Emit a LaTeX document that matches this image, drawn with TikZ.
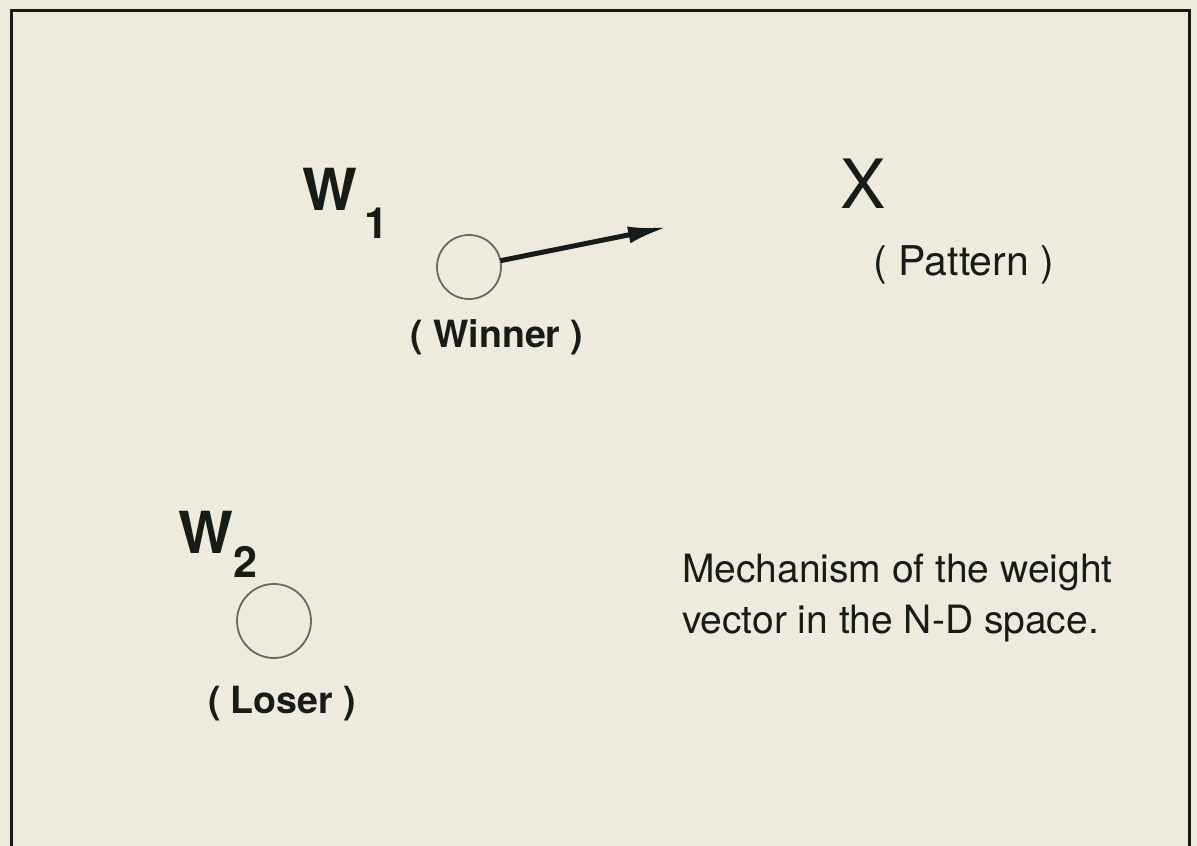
\documentclass[tikz,border=0pt]{standalone}
\usepackage{fontspec}
\setmainfont{TeX Gyre Heros}
\usetikzlibrary{arrows.meta}
\definecolor{paper}{RGB}{238,234,222}
\definecolor{ink}{RGB}{24,28,24}
\definecolor{rim}{RGB}{105,105,100}

\begin{document}
\begin{tikzpicture}[x=1pt, y=-1pt, every node/.style={inner sep=0pt, outer sep=0pt, text=ink}]
    \tikzset{
      bigname/.style={font=\fontsize{58}{60}\selectfont\bfseries},
      idx/.style={font=\fontsize{43}{45}\selectfont\bfseries},
      role/.style={font=\fontsize{37.5}{40}\selectfont\bfseries},
      note/.style={font=\fontsize{39}{47}\selectfont},
      unit/.style={circle, draw=rim, line width=1.8pt},
    }
    \fill[paper] (0,0) rectangle (1197,846);
    \useasboundingbox (0,0) rectangle (1197,846);
    \draw[ink, line width=3pt] (11,846) |- (1189,10) -- (1189,846);

    \node[unit, minimum size=64pt] (w1) at (469,267) {};
    \node[unit, minimum size=74pt] (w2) at (274,621) {};
    \coordinate (tip) at (668,227);

    \node[bigname, anchor=base west] (w1name) at (302,210) {W};
    \node[idx, anchor=base west] (w1idx) at (364,238) {1};
    \node[role, anchor=base] (w1role) at (497,347) {( Winner )};

    \node[font=\fontsize{68}{70}\selectfont, anchor=base west] (xname) at (840,208) {X};
    \node[font=\fontsize{41}{44}\selectfont, anchor=base] (xrole) at (964,275) {( Pattern )};

    \node[bigname, anchor=base west] (w2name) at (178,553) {W};
    \node[idx, anchor=base west] (w2idx) at (233,577) {2};
    \node[role, anchor=base] (w2role) at (282,713) {( Loser )};

    \node[note, anchor=base west] (note1) at (682,582) {Mechanism of the weight};
    \node[note, anchor=base west] (note2) at (682,633) {vector in the N-D space.};

    \draw[ink, line width=5pt, -{Latex[length=40pt,width=17pt]}] (w1) -- (tip);
\end{tikzpicture}
\end{document}
